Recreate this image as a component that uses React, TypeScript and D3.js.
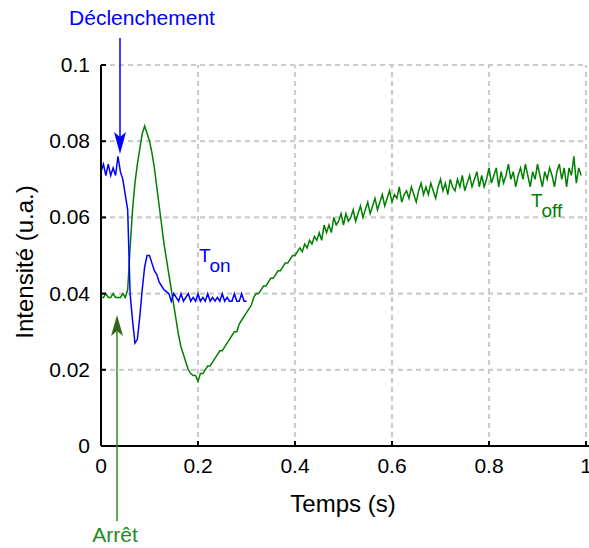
import * as React from "react";
import * as d3 from "d3";

// sampling step of both traces (s)
const DT = 0.005;

// Déclenchement (T_on) trace, one value every DT from t = 0
const blueValues = [
  0.072, 0.074, 0.071, 0.074, 0.071, 0.073, 0.071, 0.076, 0.072, 0.070,
  0.066, 0.062, 0.040, 0.033, 0.027, 0.028, 0.034, 0.041, 0.047, 0.050,
  0.050, 0.048, 0.046, 0.045, 0.043, 0.042, 0.041, 0.0405,
  0.040, 0.038, 0.040, 0.039, 0.038, 0.040, 0.038, 0.039, 0.040, 0.038,
  0.039, 0.038, 0.040, 0.038, 0.039, 0.038, 0.040, 0.038, 0.039, 0.038,
  0.039, 0.038, 0.040, 0.038, 0.039, 0.038, 0.038, 0.040, 0.038, 0.038,
  0.040, 0.038, 0.038,
];

// Arrêt (T_off) trace, one value every DT from t = 0
const greenValues = [
  0.039, 0.039, 0.040, 0.039, 0.039, 0.040, 0.039, 0.039, 0.039, 0.040,
  0.039, 0.041, 0.052, 0.062, 0.069, 0.074, 0.078, 0.082, 0.084, 0.082,
  0.080, 0.077, 0.073, 0.068, 0.063, 0.058, 0.053, 0.049, 0.045, 0.041,
  0.037, 0.033, 0.029, 0.026, 0.024, 0.022, 0.020, 0.019, 0.0185, 0.0185,
  0.017, 0.019, 0.019, 0.020, 0.021, 0.021, 0.022, 0.023, 0.024, 0.025,
  0.025, 0.026, 0.027, 0.028, 0.029, 0.030, 0.030, 0.032, 0.033, 0.034,
  0.035, 0.036, 0.037, 0.039, 0.040, 0.040, 0.041, 0.042, 0.042, 0.043,
  0.044, 0.044, 0.045, 0.046, 0.046, 0.047, 0.048, 0.048, 0.049, 0.050,
  0.050, 0.051, 0.052, 0.051, 0.053, 0.052, 0.054, 0.053, 0.055, 0.054,
  0.056, 0.054, 0.058, 0.056, 0.058, 0.056, 0.060, 0.058, 0.059, 0.061,
  0.058, 0.061, 0.059, 0.060, 0.062, 0.059, 0.061, 0.063, 0.060, 0.062,
  0.064, 0.061, 0.063, 0.065, 0.062, 0.064, 0.066, 0.063, 0.065, 0.067,
  0.064, 0.066, 0.065, 0.068, 0.064, 0.066, 0.067, 0.065, 0.068, 0.066,
  0.064, 0.067, 0.069, 0.066, 0.068, 0.066, 0.069, 0.067, 0.065, 0.068,
  0.070, 0.067, 0.069, 0.066, 0.070, 0.068, 0.067, 0.070, 0.068, 0.071,
  0.067, 0.069, 0.071, 0.068, 0.070, 0.072, 0.068, 0.071, 0.068, 0.070,
  0.073, 0.069, 0.071, 0.073, 0.068, 0.072, 0.069, 0.071, 0.074, 0.070,
  0.072, 0.068, 0.071, 0.073, 0.070, 0.074, 0.071, 0.068, 0.072, 0.070,
  0.074, 0.071, 0.068, 0.072, 0.070, 0.073, 0.071, 0.068, 0.072, 0.074,
  0.070, 0.073, 0.068, 0.073, 0.071, 0.076, 0.069, 0.073, 0.071,
];

const xTicks = [0, 0.2, 0.4, 0.6, 0.8, 1];
const yTicks = [0, 0.02, 0.04, 0.06, 0.08, 0.1];
const xTickLabels = ["0", "0.2", "0.4", "0.6", "0.8", "1"];
const yTickLabels = ["0", "0.02", "0.04", "0.06", "0.08", "0.1"];

const W = 589;
const H = 548;
const FONT = "'Liberation Sans', Arial, Helvetica, sans-serif";

const BLUE = "#0000ff";
const GREEN = "#008000";

export default function App() {
  const x = d3.scaleLinear().domain([0, 1]).range([101, 586]);
  const y = d3.scaleLinear().domain([0, 0.1]).range([446, 65]);

  const line = d3
    .line<number>()
    .x((_, i) => x(i * DT))
    .y((d) => y(d))
    .curve(d3.curveLinear);

  const grid = "#cccccc";

  return (
    <svg
      width={W}
      height={H}
      style={{ position: "absolute", left: 0, top: 0, background: "#fff" }}
      fontFamily={FONT}
    >
      {/* grid */}
      {yTicks.slice(1).map((t) => (
        <line key={"gy" + t} x1={x(0)} x2={x(1)} y1={y(t)} y2={y(t)}
          stroke={grid} strokeWidth={2.2} strokeDasharray="5,4" />
      ))}
      {xTicks.slice(1).map((t) => (
        <line key={"gx" + t} x1={x(t)} x2={x(t)} y1={y(0)} y2={y(0.1)}
          stroke={grid} strokeWidth={2.2} strokeDasharray="5,4" />
      ))}

      {/* traces */}
      <path d={line(greenValues) || ""} fill="none" stroke={GREEN} strokeWidth={1.5} />
      <path d={line(blueValues) || ""} fill="none" stroke={BLUE} strokeWidth={1.5} />

      {/* axes */}
      <line x1={x(0)} x2={W} y1={y(0)} y2={y(0)} stroke="#000" strokeWidth={2} />
      <line x1={x(0)} x2={x(0)} y1={y(0.1)} y2={y(0)} stroke="#000" strokeWidth={2} />
      {yTicks.slice(1).map((t) => (
        <line key={"ty" + t} x1={x(0)} x2={x(0) + 5} y1={y(t)} y2={y(t)} stroke="#000" strokeWidth={2} />
      ))}
      {xTicks.slice(1).map((t) => (
        <line key={"tx" + t} x1={x(t)} x2={x(t)} y1={y(0)} y2={y(0) - 5} stroke="#000" strokeWidth={2} />
      ))}

      {/* tick labels */}
      {yTicks.map((t, i) => (
        <text key={"ly" + t} x={90} y={y(t) + 7} textAnchor="end" fontSize={21} fill="#000">
          {yTickLabels[i]}
        </text>
      ))}
      {xTicks.map((t, i) => (
        <text key={"lx" + t} x={x(t)} y={473} textAnchor="middle" fontSize={21} fill="#000">
          {xTickLabels[i]}
        </text>
      ))}

      {/* axis titles */}
      <text x={343} y={512} textAnchor="middle" fontSize={24} fill="#000">Temps (s)</text>
      <text transform="translate(33,262) rotate(-90)" textAnchor="middle" fontSize={24} fill="#000">
        Intensité (u.a.)
      </text>

      {/* Déclenchement arrow */}
      <text x={142} y={25} textAnchor="middle" fontSize={21} fill={BLUE}>Déclenchement</text>
      <line x1={120} x2={120} y1={38} y2={140} stroke={BLUE} strokeWidth={1.5} />
      <path d="M114,132 L120,137 L126,132 L120,154 Z" fill={BLUE} />

      {/* Arrêt arrow */}
      <text x={115} y={542} textAnchor="middle" fontSize={21} fill="#1e8c1e">Arrêt</text>
      <line x1={117} x2={117} y1={330} y2={521} stroke="#2e8b22" strokeWidth={1.5} />
      <path d="M111,336 L117,331 L123,336 L117,315 Z" fill="#35661a" />

      {/* labels */}
      <text x={199} y={262} fontSize={19} fill={BLUE}>
        T<tspan dy={10} dx={1}>on</tspan>
      </text>
      <text x={531} y={207} fontSize={19} fill={GREEN}>
        T<tspan dy={10} dx={1}>off</tspan>
      </text>
    </svg>
  );
}
